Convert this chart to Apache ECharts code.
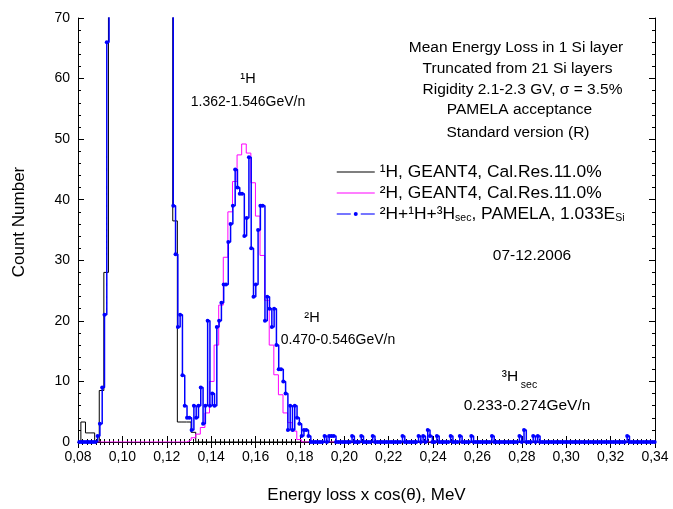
<!DOCTYPE html>
<html><head><meta charset="utf-8">
<script src="https://cdn.jsdelivr.net/npm/echarts@6/dist/echarts.min.js"></script>
<style>html,body{margin:0;padding:0;background:#fff}#c{width:673px;height:509px}</style>
</head><body><div id="c"></div>
<script>
// ---- data ----
const xMin = 0.08, xMax = 0.34, xStep = 0.02;
const yMin = 0, yMax = 70, yStep = 10;

// GEANT4 histograms (1H black, 2H magenta): common bin grid
const simStart = 0.0813, simBin = 0.00207;
// 1H (values above 70 are off-scale)
const h1Counts = [3.3, 1.5, 1.5, 0, 8.5, 28,
  95, 160, 230, 290, 320, 330, 315, 290, 255, 215, 175, 140, 110, 85,
  36.5, 3.3, 3.3, 3.3, 1.6, 0];
// 2H
const h2Counts = [0,0,0,0,0,0,0,0,0,0, 0,0,0,0,0,0,0,0,0,0, 0,0,0,
  0.3, 0.7, 1.3, 2.4, 4.8, 10, 16, 22.6, 30.5, 38, 43, 47.4, 49.2,
  47.7, 42.8, 37.3, 30.8, 23.4, 16, 11.1, 7.8, 4.8, 3.2, 1.8, 0.4, 0];

// PAMELA data (blue), bin width 1.033 x 0.001 MeV
const pamStart = 0.080574, pamBin = 0.001033;
const pamCounts = [
  0,0,0,0,0,0,0,0,1,3,
  9,21,66,100,150,210,270,320,350,360,
  350,330,300,270,240,210,180,155,135,120,
  108,98,92,88,85,82,80,79,78,77,
  76,39,31,19,21,11,6,4,4,2,
  6,4,6,9,3,6,20,6,8,6,
  19,20,23,26,26,33,36,39,45,42,
  41,41,34,37,47,32,24,26,35,39,
  39,20,24,22,19,22,16,12,12,10,
  8,2,6,2,6,4,3,1,2,2,
  1,0,0,0,0,0,0,1,0,1,
  1,1,0,0,0,0,0,0,0,1,
  0,0,0,1,0,0,0,0,1,0,
  0,0,0,0,0,0,0,0,0,0,
  0,1,0,0,0,0,0,0,1,0,
  1,0,2,1,0,0,1,0,0,0,
  0,0,1,0,0,0,1,0,0,0,
  0,1,0,0,0,0,0,0,0,0,
  1,0,0,0,0,0,0,0,0,0,
  0,0,1,0,2,0,0,0,1,0,
  1,0,0,0,0,0,0,0,0,0,
  0,0,0,0,0,0,0,0,0,0,
  0,0,0,0,0,0,0,0,0,0,
  0,0,0,0,0,0,0,0,0,1,
  0,0,0,0,0,0,0,0,0,0,
  0,0];

const seriesNames = ['h1', 'h2', 'pam'];
const titleLines = ['Mean Energy Loss in 1 Si layer', 'Truncated from 21 Si layers',
  'Rigidity 2.1-2.3 GV, \u03c3 = 3.5%', 'PAMELA acceptance', 'Standard version (R)'];
const dateText = '07-12.2006';
const xName = 'Energy loss x cos(\u03b8), MeV';
const yName = 'Count Number';

// ---- build ----
function simStep(counts) {
  const d = [[xMin, 0]];
  counts.forEach((v, i) => d.push([simStart + i * simBin, v]));
  d.push([simStart + counts.length * simBin, 0]);
  d.push([xMax, 0]);
  return d;
}
const pamData = pamCounts.map((v, i) => [pamStart + i * pamBin, v]);
pamData.push({ value: [xMax, pamCounts[pamCounts.length - 1]], symbol: 'none' });

const FF = '"Liberation Sans", Arial, sans-serif';
const chart = echarts.init(document.getElementById('c'), null, { renderer: 'canvas' });

const axisCommon = {
  axisLine: { show: true, lineStyle: { color: '#000', width: 1 } },
  axisTick: { show: true, inside: true, length: 6, lineStyle: { color: '#000' } },
  splitLine: { show: false },
};

const legendLabels = {
  h1: '{n|\u00b9H, GEANT4, Cal.Res.11.0%}',
  h2: '{n|\u00b2H, GEANT4, Cal.Res.11.0%}',
  pam: '{n|\u00b2H+\u00b9H+\u00b3H}{s|sec}{n|, PAMELA, 1.033E}{s|Si}'
};

function txt(text, x, y, size, extra) {
  return Object.assign({
    type: 'text', x: x, y: y, silent: true,
    style: { text: text, font: size + 'px ' + FF, fill: '#000',
      textAlign: 'center', textVerticalAlign: 'middle', align: 'center', verticalAlign: 'middle' }
  }, extra || {});
}

const graphics = [];
const tY = [48, 69, 89.5, 110, 133];
const tX = [516, 517.5, 522.5, 519.5, 518];
titleLines.forEach((t, i) => graphics.push(txt(t, tX[i], tY[i], 15.5)));
graphics.push(txt(dateText, 532, 256, 15.5));
graphics.push(txt('\u00b9H', 248, 79, 14.5));
graphics.push(txt('1.362-1.546GeV/n', 248, 102, 14));
graphics.push(txt('\u00b2H', 312, 318, 14.5));
graphics.push(txt('0.470-0.546GeV/n', 338, 340, 14));
graphics.push(txt('\u00b3H', 510, 377, 15.5));
graphics.push(txt('sec', 529, 385, 10.5));
graphics.push(txt('0.233-0.274GeV/n', 527, 406, 15.5));
graphics.push(txt(yName, 19, 222, 17, { rotation: Math.PI / 2 }));

const option = {
  animation: false,
  backgroundColor: '#fff',
  textStyle: { fontFamily: FF },
  grid: { left: 78, right: 18, top: 18, bottom: 65, containLabel: false },
  xAxis: [
    Object.assign({}, axisCommon, {
      type: 'value', min: xMin, max: xMax, interval: xStep, position: 'bottom',
      minorTick: { show: true, splitNumber: 10, length: 3, lineStyle: { color: '#000' } },
      axisLabel: { color: '#000', fontSize: 14, fontFamily: FF, margin: 8,
        formatter: v => v.toFixed(2).replace('.', ',') },
      name: xName, nameLocation: 'middle', nameGap: 45,
      nameTextStyle: { color: '#000', fontSize: 17, fontFamily: FF }
    }),
    Object.assign({}, axisCommon, {
      type: 'value', min: xMin, max: xMax, interval: xStep, position: 'top',
      minorTick: { show: true, splitNumber: 10, length: 3, lineStyle: { color: '#000' } },
      axisLabel: { show: false }
    })
  ],
  yAxis: [
    Object.assign({}, axisCommon, {
      type: 'value', min: yMin, max: yMax, interval: yStep, position: 'left',
      minorTick: { show: true, splitNumber: 5, length: 3, lineStyle: { color: '#000' } },
      axisLabel: { color: '#000', fontSize: 14, fontFamily: FF, margin: 8 }
    }),
    Object.assign({}, axisCommon, {
      type: 'value', min: yMin, max: yMax, interval: yStep, position: 'right',
      minorTick: { show: true, splitNumber: 5, length: 3, lineStyle: { color: '#000' } },
      axisLabel: { show: false }
    })
  ],
  legend: {
    orient: 'vertical', left: 336, top: 163.5, itemWidth: 38, itemHeight: 5, itemGap: 4,
    padding: 0, selectedMode: false,
    lineStyle: { type: [14, 10], width: 1.5 },
    formatter: name => legendLabels[name],
    textStyle: {
      color: '#000', fontFamily: FF,
      rich: {
        n: { fontSize: 17.4, lineHeight: 20, fontFamily: FF, color: '#000' },
        s: { fontSize: 10.5, lineHeight: 10, verticalAlign: 'bottom', fontFamily: FF, color: '#000' }
      }
    },
    data: [
      { name: 'h1', icon: 'path://M0,0H40V1H0Z' },
      { name: 'h2', icon: 'path://M0,0H40V1H0Z' },
      { name: 'pam', lineStyle: { type: [14, 10], width: 1.5, color: '#4a4aff' } }
    ]
  },
  graphic: graphics,
  series: [
    { name: 'h1', type: 'line', step: 'end', data: simStep(h1Counts), symbol: 'none',
      lineStyle: { color: '#000', width: 1 }, itemStyle: { color: '#000' }, clip: true, z: 2 },
    { name: 'h2', type: 'line', step: 'end', data: simStep(h2Counts), symbol: 'none',
      lineStyle: { color: '#ff00ff', width: 1 }, itemStyle: { color: '#ff00ff' }, clip: true, z: 3 },
    { name: 'pam', type: 'line', step: 'end', data: pamData, symbol: 'circle', symbolSize: 4,
      showSymbol: true, showAllSymbol: true,
      lineStyle: { color: '#0000ff', width: 1.5 }, itemStyle: { color: '#0000ff' }, clip: true, z: 4 }
  ]
};
chart.setOption(option);
</script>
</body></html>
